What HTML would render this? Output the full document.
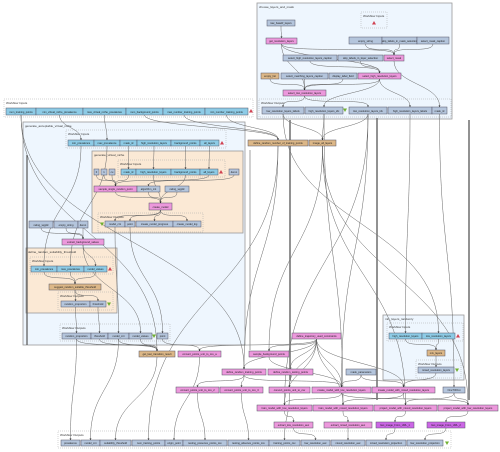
<!DOCTYPE html>
<html><head><meta charset="utf-8">
<style>
html,body{margin:0;padding:0;background:#fff;width:500px;height:452px;overflow:hidden}
svg{display:block}
text{font-family:"Liberation Sans",sans-serif;font-size:3.2px;fill:#222}
</style></head>
<body>
<svg id="g" width="500" height="452" viewBox="0 0 500 452">
<g id="clusters"></g><g id="edges"></g><g id="nodes"></g>
</svg>
<script>
const NS="http://www.w3.org/2000/svg";
// clusters: [label, x1,y1,x2,y2, kind]
const clusters=[
["choose_layers_and_mask",257,3,452,119,"blue"],
["Workflow Inputs",361,12,387,28,"dash"],
["Workflow Outputs",259,99,451,117,"dash"],
["Workflow Inputs",4,99,253,117,"dash"],
["generate_acceptable_virtual_niche",23,122,245,345,"blue"],
["Workflow Inputs",66,130,226,148,"dash"],
["generate_virtual_niche",92,151,243,233,"tan"],
["Workflow Inputs",118,160,225,177,"dash"],
["Workflow Outputs",98,213,203,232,"dash"],
["define_random_suitability_threshold",26,248,117,313,"tan"],
["Workflow Inputs",30,257,113,274,"dash"],
["Workflow Outputs",58,292,113,310,"dash"],
["Workflow Outputs",60,324,170,341,"dash"],
["mix_layers_randomly",383,315,464,380,"blue"],
["Workflow Inputs",387,323,463,341,"dash"],
["Workflow Outputs",416,360,461,378,"dash"],
["Workflow Outputs",58,431,451,448,"dash"]
];
const C={b:"#8dcbe6",g:"#b4c5dc",p:"#ec98dc",t:"#dcb787",v:"#cc66e6"};
// nodes: [id,label,x1,y1,x2,y2,color]
const nodes=[
["rbl","raw_baseR_layers",267,20,295,26,"g"],
["grl","get_resolution_layers",266,38,297,44,"p"],
["es1","empty_string",349,37,382,44,"g"],
["slm","skip_labels_in_mask_selection",382,37,417,44,"g"],
["smc","select_mask_caption",417,37,449,44,"g"],
["shc","select_high_resolution_layers_caption",283,55,337,61,"g"],
["sll","skip_labels_in_layer_selection",338,55,383,61,"g"],
["sm","select_mask",384,55,404,61,"p"],
["el","empty_list",261,73,279,79,"t"],
["smlc","select_matching_layers_caption",281,73,328,79,"g"],
["dlf","display_label_field",329,73,357,79,"g"],
["shr","select_high_resolution_layers",358,73,401,79,"p"],
["slr","select_low_resolution_layers",283,90,326,96,"p"],
["o1","low_resolution_layers_labels",262,107,304,114,"g"],
["o2","high_resolution_layers_idx",305,107,343,114,"g"],
["o3","low_resolution_layers_idx",349,107,387,114,"g"],
["o4","high_resolution_layers_labels",388,107,432,114,"g"],
["o5","mask_id",432,107,447,114,"g"],
["i1","num_training_points",6,108,36,115,"b"],
["i2","min_virtual_niche_prevalence",36,108,83,115,"b"],
["i3","max_virtual_niche_prevalence",83,108,126,115,"b"],
["i4","num_background_points",126,108,163,115,"b"],
["i5","max_number_training_points",163,108,205,115,"b"],
["i6","min_number_training_points",205,108,248,115,"b"],
["drn","define_random_number_of_training_points",248,140,308,146,"t"],
["ial","image_all_layers",309,140,336,146,"t"],
["g1","min_prevalence",68,140,94,146,"b"],
["g2","max_prevalence",94,140,120,146,"b"],
["g3","mask_id",120,140,137,146,"b"],
["g4","high_resolution_layers",137,140,171,146,"b"],
["g5","background_points",171,140,200,146,"b"],
["g6","all_layers",200,140,219,146,"b"],
["n0","0",94,169,99,175,"g"],
["n1","1",101,169,107,175,"g"],
["n2","cu",109,169,115,175,"g"],
["v1","mask_id",121,169,136,175,"b"],
["v2","high_resolution_layers",136,169,171,175,"b"],
["v3","background_points",171,169,200,175,"b"],
["v4","all_layers",200,169,218,175,"b"],
["dm","demo",229,169,239,175,"g"],
["ssr","sample_single_random_point",94,186,137,192,"p"],
["alg","algorithm_cnt",137,186,160,192,"g"],
["rw1","rating_wgpld",165,186,189,192,"g"],
["cm","create_model",149,203,172,210,"p"],
["vo1","model_cnt",105,221,125,227,"g"],
["vo2","point",125,221,135,227,"g"],
["vo3","create_model_progress",136,221,173,227,"g"],
["vo4","create_model_log",173,221,201,227,"g"],
["rw2","rating_wgpld",29,221,53,228,"g"],
["es2","empty_string",54,221,78,228,"g"],
["dm2","demo",78,221,88,228,"g"],
["ebv","extract_background_values",62,239,104,245,"p"],
["t1","min_prevalence",31,266,57,272,"b"],
["t2","max_prevalence",57,266,84,272,"b"],
["t3","model_values",84,266,107,272,"b"],
["srs","suggest_random_suitable_threshold",49,284,101,290,"t"],
["to1","random_proportion",61,301,90,307,"g"],
["to2","threshold",90,301,106,307,"g"],
["go1","random_proportion",62,333,91,339,"g"],
["go2","threshold",91,333,108,339,"g"],
["go3","model_cnt",108,333,129,339,"g"],
["go4","model_values",129,333,152,339,"g"],
["go5","point",157,333,168,339,"g"],
["dtc","define_trajectory_used_constraints",292,333,341,339,"p"],
["m1","high_resolution_layers",389,333,422,339,"b"],
["m2","low_resolution_layers",422,333,455,339,"b"],
["ml","mix_layers",427,350,445,356,"t"],
["mo","mixed_resolution_layers",418,367,454,373,"g"],
["glt","get_last_transition_result",139,351,175,357,"t"],
["cpa","convert_points_unit_to_csv_a",178,351,221,357,"p"],
["sbp","sample_background_points",249,351,289,357,"p"],
["drt","define_random_training_points",222,369,266,375,"p"],
["drs","define_random_testing_points",268,369,313,375,"p"],
["mp","mask_parameters",346,369,376,375,"g"],
["c2","convert_points_unit_to_csv_2",176,387,219,393,"p"],
["c3","convert_points_unit_to_csv_3",220,387,263,393,"p"],
["c1","convert_points_unit_to_csv",269,387,310,393,"p"],
["cml","create_model_with_low_resolution_layers",312,387,371,393,"p"],
["cmm","create_model_with_mixed_resolution_layers",372,387,435,393,"p"],
["otf","OneTIFOut",443,387,465,393,"g"],
["tml","train_model_with_low_resolution_layers",257,405,312,411,"p"],
["tmm","train_model_with_mixed_resolution_layers",313,405,373,411,"p"],
["pmm","project_model_with_mixed_resolution_layers",374,405,437,411,"p"],
["pml","project_model_with_low_resolution_layers",438,405,498,411,"p"],
["ela","extract_low_resolution_auc",274,422,313,428,"p"],
["ema","extract_mixed_resolution_auc",324,422,372,428,"p"],
["gi1","Get_image_From_URL_1",376,422,414,428,"v"],
["gi2","Get_image_From_URL_2",427,422,465,428,"v"],
["f1","prevalence",61,440,80,446,"g"],
["f2","model_cnt",81,440,100,446,"g"],
["f3","suitability_threshold",100,440,131,446,"g"],
["f4","num_training_points",132,440,165,446,"g"],
["f5","origin_point",165,440,183,446,"g"],
["f6","testing_presence_points_csv",183,440,227,446,"g"],
["f7","testing_absence_points_csv",228,440,269,446,"g"],
["f8","training_points_csv",269,440,300,446,"g"],
["f9","low_resolution_auc",301,440,330,446,"g"],
["f10","mixed_resolution_auc",331,440,365,446,"g"],
["f11","mixed_resolution_projection",366,440,406,446,"g"],
["f12","low_resolution_projection",407,440,443,446,"g"]
];
const edges=[
["rbl","grl"],["grl","sm"],["grl","shr"],["grl","slr"],["es1","sm"],["slm","sm"],["smc","sm"],["shc","shr"],["sll","shr"],["sm","o5"],
["el","slr"],["smlc","slr"],["dlf","slr"],["shr","slr"],["shr","o4"],["shr","o2"],["slr","o1"],["slr","o3"],
["i2","g1"],["i3","g2"],["i5","drn"],["i6","drn"],["i4","drn"],["o2","ial"],["o1","ial"],["o3","ial"],
["g3","v1"],["g4","v2"],["g5","v3"],["g6","v4"],["n0","ssr"],["n1","ssr"],["n2","ssr"],["v1","ssr"],["v4","ssr"],["dm","alg"],
["ssr","cm"],["alg","cm"],["rw1","cm"],["v2","cm"],["v3","cm"],["cm","vo1"],["cm","vo2"],["cm","vo3"],["cm","vo4"],
["rw2","ebv"],["es2","ebv"],["dm2","ebv"],["g1","t1"],["g2","t2"],["ebv","t3"],["t1","srs"],["t2","srs"],["t3","srs"],
["srs","to1"],["srs","to2"],["to1","go1"],["to2","go2"],["vo1","go3"],["ebv","go4"],["vo2","go5"],
["go1","glt"],["go2","glt"],["go3","glt"],["go4","glt"],["go5","cpa"],["i1","glt"],
["dtc","sbp"],["dtc","drt"],["dtc","drs"],["dtc","c1"],["dtc","cml"],["dtc","cmm"],["dtc","tml"],["dtc","tmm"],["dtc","cpa"],
["drn","drt"],["ial","sbp"],["i1","drt"],["drt","c2"],["drt","c3"],["drs","c1"],["drt","cml"],["sbp","cml"],["mp","cml"],["mp","cmm"],
["m1","ml"],["m2","ml"],["ml","mo"],["mo","cmm"],["o3","cml"],["o5","otf"],["o4","m1"],["o1","m2"],
["cml","tml"],["cmm","tmm"],["cmm","pmm"],["cml","pml"],["otf","pmm"],["otf","pml"],["ial","pml"],["ial","pmm"],
["tml","ela"],["tmm","ema"],["pmm","gi1"],["pml","gi2"],["ela","f9"],["ema","f10"],["gi1","f11"],["gi2","f12"],
["go1","f1"],["go3","f2"],["glt","f3"],["drn","f4"],["cpa","f5"],["c2","f6"],["c3","f7"],["c1","f8"],["o3","tml"],["o2","tmm"]
];
const tris=[[374,23,"r"],[251,111,"r"],[345,110,"g"],[222,143,"r"],[221,172,"r"],[102,224,"g"],[110,269,"r"],[109,304,"g"],[154,336,"g"],[458,336,"r"],[457,370,"g"],[447,443,"g"]];
const byId={};nodes.forEach(n=>byId[n[0]]=n);
const gc=document.getElementById("clusters"),ge=document.getElementById("edges"),gn=document.getElementById("nodes");
function mk(t,a,p){const e=document.createElementNS(NS,t);for(const k in a)e.setAttribute(k,a[k]);p.appendChild(e);return e;}
clusters.forEach(c=>{
  const g=mk("g",{},gc);
  
  
  const dash=c[5]==="dash";
  mk("rect",{x:c[1],y:c[2],width:c[3]-c[1],height:c[4]-c[2],fill:dash?"none":(c[5]==="tan"?"#fbe9d5":"#eef6fe"),stroke:dash?"#aaa":"#999","stroke-width":dash?0.5:0.8,"stroke-dasharray":dash?"1,1":"none"},g);
  const t=mk("text",{x:c[1]+2,y:c[2]+5,style:"font-size:3px;fill:#333"},g);t.textContent=c[0];
});
edges.forEach(e=>{
  const a=byId[e[0]],b=byId[e[1]];if(!a||!b)return;
  const x1=(a[2]+a[4])/2,y1=a[5],x2=(b[2]+b[4])/2,y2=b[3];
  const dy=Math.max(10,(y2-y1)/2);
  const p=mk("path",{d:`M${x1},${y1} C${x1},${y1+dy} ${x2},${y2-dy} ${x2},${y2-1}`,fill:"none",stroke:"#666","stroke-width":0.5},ge);
  
  
  mk("path",{d:`M${x2-1},${y2-1.5} L${x2+1},${y2-1.5} L${x2},${y2} Z`,fill:"#222"},ge);
});
// trunk bundles
[[290,120,380,"#777",1.6],[377,118,400,"#777",1.6],[469,120,400,"#777",1.6],[250,150,350,"#888",0.8],[27,155,345,"#555",1.2]].forEach(v=>{
  const l=mk("line",{x1:v[0],y1:v[1],x2:v[0],y2:v[2],stroke:v[3],"stroke-width":v[4]},ge);
  
  
});
nodes.forEach(n=>{
  const g=mk("g",{},gn);
  
  
  mk("rect",{x:n[2],y:n[3],width:n[4]-n[2],height:n[5]-n[3],fill:C[n[6]],stroke:"#556","stroke-width":0.5},g);
  const t=mk("text",{x:(n[2]+n[4])/2,y:n[5]-1.8,"text-anchor":"middle",style:"font-size:2.6px"},g);t.textContent=n[1];
});
tris.forEach(t=>{
  const p=t[2]==="r"?`M${t[0]-2},${t[1]+1.5} L${t[0]+2},${t[1]+1.5} L${t[0]},${t[1]-2} Z`:`M${t[0]-2},${t[1]-1.5} L${t[0]+2},${t[1]-1.5} L${t[0]},${t[1]+2} Z`;
  const e=mk("path",{d:p,fill:t[2]==="r"?"#d04050":"#70b030"},gn);
  
  
});
</script>
</body></html>
